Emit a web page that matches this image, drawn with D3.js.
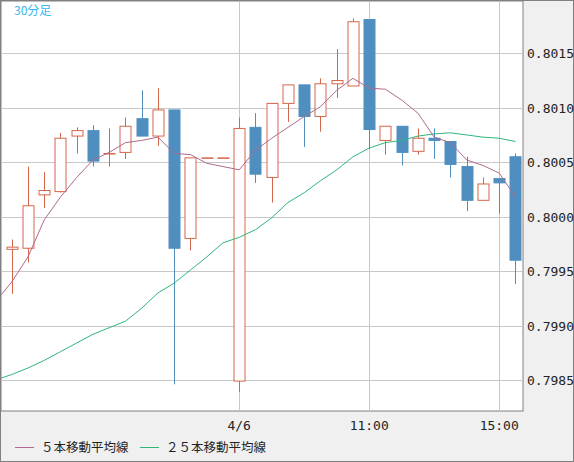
<!DOCTYPE html>
<html><head><meta charset="utf-8">
<script src="https://cdn.jsdelivr.net/npm/d3@7"></script>
<style>body{margin:0;background:#f0f0f0}svg{display:block}</style>
</head><body><div id="chart"></div>
<script>
const width = 574, height = 462;
const open  = [.79970,.79971,.80020,.80023,.80074,.80079,.80058,.80059,.80090,.80074,.80098,.79980,.80054,.80054,.79849,.80082,.80036,.80104,.80121,.80092,.80122,.80120,.80181,.80070,.80083,.80060,.80072,.80069,.80046,.80015,.80035,.80055];
const high  = [.79979,.80046,.80041,.80077,.80082,.80084,.80081,.80091,.80116,.80118,.80098,.80054,.80054,.80054,.80091,.80095,.80104,.80121,.80121,.80127,.80154,.80182,.80181,.80083,.80083,.80081,.80081,.80069,.80055,.80036,.80035,.80058];
const low   = [.79929,.79958,.80008,.80022,.80058,.80046,.80046,.80053,.80074,.80065,.79846,.79969,.80054,.80054,.79839,.80031,.80013,.80087,.80064,.80078,.80109,.80120,.80062,.80057,.80047,.80057,.80053,.80036,.80005,.80015,.80003,.79938];
const close = [.79972,.80010,.80024,.80072,.80079,.80051,.80058,.80083,.80074,.80098,.79971,.80054,.80054,.80054,.80081,.80039,.80104,.80121,.80092,.80122,.80125,.80179,.80080,.80083,.80059,.80072,.80070,.80048,.80015,.80030,.80031,.79960];
// moving averages; first value belongs to the bar just left of the visible range
const ma5  = [.79922,.79940,.79963,.79997,.80018,.80036,.80052,.80059,.80068,.80070,.80073,.80058,.80057,.80049,.80046,.80043,.80061,.80072,.80082,.80092,.80101,.80116,.80127,.80118,.80117,.80107,.80095,.80073,.80068,.80052,.80047,.80040,.80018];
const ma25 = [.79850,.79855,.79861,.79868,.79876,.79884,.79892,.79898,.79904,.79916,.79930,.79939,.79951,.79963,.79976,.79981,.79988,.79999,.80013,.80022,.80033,.80043,.80055,.80063,.80068,.80070,.80074,.80076,.80077,.80075,.80073,.80072,.80069];
const yTicks = [0.7985,0.7990,0.7995,0.8000,0.8005,0.8010,0.8015];
const xTicks = [{i:14,label:"4/6"},{i:22,label:"11:00"},{i:30,label:"15:00"}];

const plot = {l:1, t:1, r:523, b:411};
const idx = d3.range(open.length);
const x = d3.scaleBand().domain(idx).range([3.6, 3.6 + 16.25*open.length]);
const cx = i => x(0) + x.step()*i + x.bandwidth()/2;
const y = d3.scaleLinear().domain([0.7985, 0.8015]).range([380, 53.3]);
const up = "#d4664a", down = "#4f8fc0";

const svg = d3.select('#chart').append('svg').attr('width', width).attr('height', height);
svg.append('rect').attr('x',0.5).attr('y',0.5).attr('width',width-1).attr('height',height-1)
  .attr('fill','#f0f0f0').attr('stroke','#808080');
svg.append('rect').attr('x',plot.l).attr('y',plot.t).attr('width',plot.r-plot.l).attr('height',plot.b-plot.t)
  .attr('fill','#fff').attr('stroke','#808080');
svg.append('clipPath').attr('id','clip').append('rect')
  .attr('x',plot.l).attr('y',plot.t).attr('width',plot.r-plot.l).attr('height',plot.b-plot.t);
const g = svg.append('g').attr('clip-path','url(#clip)');
g.selectAll('.hg').data(yTicks).enter().append('line')
  .attr('x1',plot.l).attr('x2',plot.r).attr('y1',d=>Math.round(y(d))+0.5).attr('y2',d=>Math.round(y(d))+0.5)
  .attr('stroke','#c8c8c8');
g.selectAll('.vg').data(xTicks).enter().append('line')
  .attr('x1',d=>Math.round(cx(d.i))+0.5).attr('x2',d=>Math.round(cx(d.i))+0.5).attr('y1',plot.t).attr('y2',plot.b)
  .attr('stroke','#c8c8c8');

svg.selectAll('.yl').data(yTicks).enter().append('text')
  .attr('x',527).attr('y',d=>y(d)+5).attr('font-family','DejaVu Sans Mono').attr('font-size',13)
  .attr('fill','#222').text(d=>d.toFixed(4));
svg.selectAll('.xl').data(xTicks).enter().append('text')
  .attr('x',d=>cx(d.i)).attr('y',430).attr('text-anchor','middle').attr('font-family','DejaVu Sans Mono')
  .attr('font-size',13).attr('fill','#222').text(d=>d.label);

const c = g.selectAll('.c').data(idx).enter().append('g');
c.append('line').attr('x1',i=>Math.round(cx(i))+0.5).attr('x2',i=>Math.round(cx(i))+0.5)
  .attr('y1',i=>y(high[i])).attr('y2',i=>y(low[i]))
  .attr('stroke',i=>close[i]>=open[i]?up:down).attr('stroke-width',1);
c.append('rect').attr('x',i=>Math.round(cx(i))-5).attr('width',11)
  .attr('y',i=>y(Math.max(open[i],close[i]))).attr('height',i=>Math.max(0.5,Math.abs(y(open[i])-y(close[i]))))
  .attr('fill',i=>close[i]>=open[i]?'#fff':down).attr('stroke',i=>close[i]>=open[i]?up:down);

const line = arr => d3.line().x((d,k)=>cx(k-1)).y(d=>y(d))(arr);
g.append('path').attr('d',line(ma25.slice(0,-1).concat([ma25[ma25.length-1]]))).attr('fill','none').attr('stroke','#2fb57a');
g.append('path').attr('d',line(ma5)).attr('fill','none').attr('stroke','#b06a8e');

svg.append('text').attr('x',14).attr('y',15).attr('font-family','Noto Sans CJK JP').attr('font-size',12)
  .attr('fill','#3bb6f0').text('30分足');
const legend = [{t:'５本移動平均線',c:'#b06a8e',x:15},{t:'２５本移動平均線',c:'#2fb57a',x:140}];
legend.forEach(d=>{
  svg.append('line').attr('x1',d.x).attr('x2',d.x+19).attr('y1',447.5).attr('y2',447.5).attr('stroke',d.c);
  svg.append('text').attr('x',d.x+26).attr('y',452).attr('font-family','Noto Sans CJK JP').attr('font-size',12.5)
    .attr('fill','#222').text(d.t);
});
</script></body></html>
